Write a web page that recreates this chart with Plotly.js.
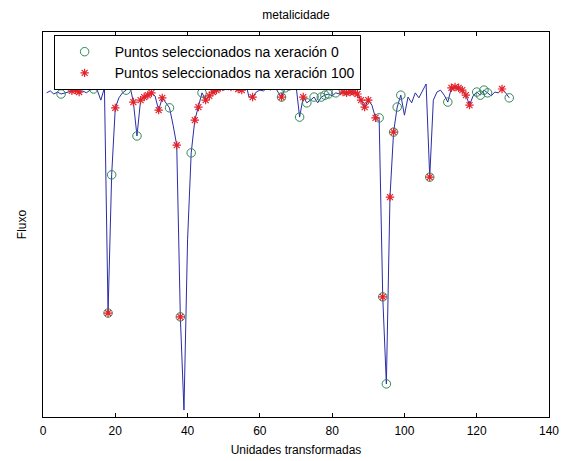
<!DOCTYPE html>
<html>
<head>
<meta charset="utf-8">
<script src="https://cdn.plot.ly/plotly-3.0.1.min.js"></script>
<style>html,body{margin:0;padding:0;background:#fff;}#chart{width:562px;height:461px;}</style>
</head>
<body>
<div id="chart"></div>
<script>
// Spectrum (flux, normalised) sampled at transformed units 1..129
const units = [];
for (let i = 1; i <= 129; i++) units.push(i);
const flux = [
  0.842, 0.847, 0.839, 0.844, 0.839, 0.842, 0.844, 0.847, 0.849, 0.844,
  0.847, 0.842, 0.849, 0.852, 0.849, 0.823, 0.855, 0.270, 0.629, 0.803,
  0.829, 0.842, 0.849, 0.862, 0.818, 0.730, 0.823, 0.831, 0.836, 0.842,
  0.834, 0.797, 0.829, 0.816, 0.803, 0.758, 0.706, 0.260, 0.018, 0.460,
  0.686, 0.771, 0.805, 0.842, 0.823, 0.834, 0.844, 0.849, 0.855, 0.849,
  0.852, 0.857, 0.855, 0.852, 0.849, 0.870, 0.831, 0.831, 0.844, 0.849,
  0.847, 0.855, 0.849, 0.862, 0.844, 0.831, 0.855, 0.860, 0.855, 0.862,
  0.779, 0.831, 0.816, 0.823, 0.831, 0.816, 0.831, 0.836, 0.839, 0.834,
  0.842, 0.839, 0.844, 0.842, 0.844, 0.844, 0.839, 0.823, 0.805, 0.823,
  0.810, 0.777, 0.777, 0.312, 0.086, 0.571, 0.740, 0.805, 0.836, 0.784,
  0.831, 0.816, 0.842, 0.829, 0.849, 0.865, 0.623, 0.823, 0.844, 0.849,
  0.836, 0.818, 0.855, 0.857, 0.855, 0.849, 0.836, 0.810, 0.834, 0.844,
  0.836, 0.849, 0.842, 0.834, 0.844, 0.842, 0.852, 0.842, 0.829
];
// Points selected in generation 0 and generation 100 (unit positions)
const selGen0 = [5, 14, 18, 19, 23, 26, 35, 38, 41, 44, 56, 64, 66, 67, 68, 71, 73, 75, 77, 78, 79, 81,
  93, 94, 95, 97, 98, 99, 107, 112, 120, 121, 122, 123, 129];
const selGen100 = [8, 9, 10, 18, 20, 24, 25, 27, 28, 29, 30, 32, 33, 37, 38, 42, 43, 45, 46, 47, 48, 49,
  52, 54, 55, 58, 64, 66, 70, 72, 83, 84, 85, 86, 87, 88, 89, 90, 92, 94, 96, 97, 107,
  113, 114, 115, 116, 117, 118, 127];
const labels = ['Puntos seleccionados na xeración 0', 'Puntos seleccionados na xeración 100'];
const xTicks = [0, 20, 40, 60, 80, 100, 120, 140];

const fluxAt = u => flux[units.indexOf(u)];

const FONT = 'Liberation Sans, Arial, sans-serif';
const traces = [
  {x: units, y: flux, type: 'scatter', mode: 'lines', showlegend: false,
   line: {color: '#2c2ca8', width: 1}},
  {x: selGen0, y: selGen0.map(fluxAt), type: 'scatter', mode: 'markers', name: labels[0],
   marker: {symbol: 'circle-open', size: 8.5, color: '#2f8a55', line: {width: 1}}},
  {x: selGen100, y: selGen100.map(fluxAt), type: 'scatter', mode: 'markers', name: labels[1],
   marker: {symbol: 'asterisk-open', size: 7, color: '#e3222a', line: {width: 1.2}}}
];
const layout = {
  width: 562, height: 461,
  margin: {l: 43, r: 13, t: 32, b: 44},
  paper_bgcolor: '#fff', plot_bgcolor: '#fff',
  font: {family: FONT, size: 12, color: '#000'},
  title: {text: 'metalicidade', font: {size: 12, family: FONT}, x: 0.5, xref: 'paper',
          y: 1 - 15/461, yref: 'container', yanchor: 'middle'},
  xaxis: {range: [0, 140], tickvals: xTicks, ticktext: xTicks.map(String),
          ticks: 'inside', ticklen: 4, tickcolor: '#000', showline: true, linecolor: '#000',
          linewidth: 1, mirror: 'allticks', showgrid: false, zeroline: false,
          ticklabelstandoff: 3,
          tickfont: {size: 12}, title: {text: 'Unidades transformadas', font: {size: 12}, standoff: 8}},
  yaxis: {range: [0, 1], showticklabels: false, ticks: '', showline: true, linecolor: '#000',
          linewidth: 1, mirror: true, showgrid: false, zeroline: false,
          title: {text: 'Fluxo', font: {size: 12}, standoff: 12}},
  legend: {x: 0.021, y: 0.992, xanchor: 'left', yanchor: 'top', bgcolor: '#fff',
           bordercolor: '#000', borderwidth: 1, font: {size: 14}, itemwidth: 50,
           tracegroupgap: 0}
};
Plotly.newPlot('chart', traces, layout, {staticPlot: true, displayModeBar: false});
</script>
</body>
</html>
